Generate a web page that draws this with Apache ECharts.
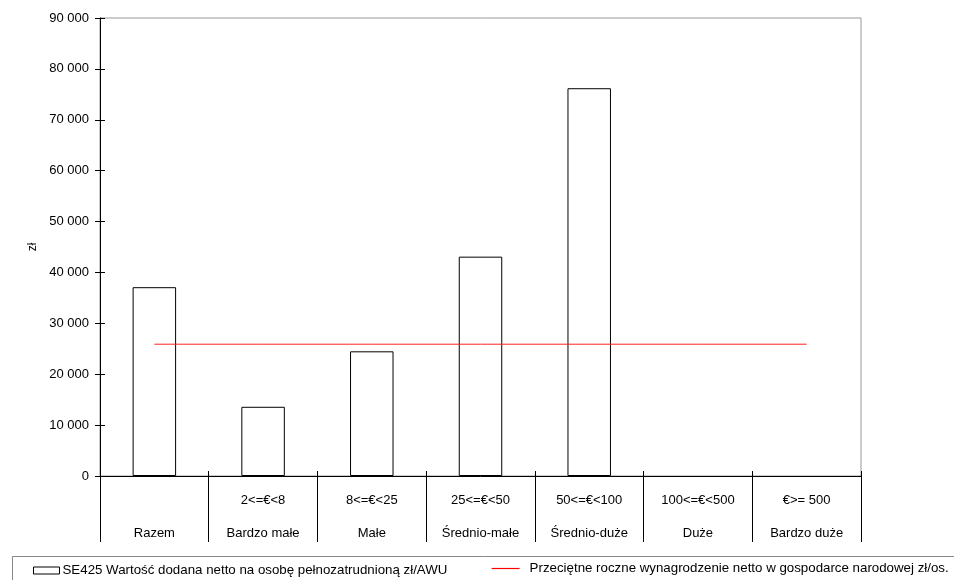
<!DOCTYPE html>
<html>
<head>
<meta charset="utf-8">
<script src="https://cdn.jsdelivr.net/npm/echarts@6/dist/echarts.min.js"></script>
<style>html,body{margin:0;padding:0;background:#fff}#c{width:954px;height:580px}</style>
</head>
<body>
<div id="c"></div>
<script>
var categoriesTop = ['', '2<=€<8', '8<=€<25', '25<=€<50', '50<=€<100', '100<=€<500', '€>= 500'];
var categoriesBottom = ['Razem', 'Bardzo małe', 'Małe', 'Średnio-małe', 'Średnio-duże', 'Duże', 'Bardzo duże'];
var valueAdded = [37100, 13600, 24500, 43100, 76200, null, null];
var avgWage = [25900, 25900, 25900, 25900, 25900, 25900, 25900];
var seriesNames = ['SE425 Wartość dodana netto na osobę pełnozatrudnioną zł/AWU', 'Przeciętne roczne wynagrodzenie netto w gospodarce narodowej zł/os.'];
var yMin = 0, yMax = 90000, yStep = 10000;

var cats = categoriesBottom.map(function (b, i) { return (categoriesTop[i] || ' ') + '\n' + b; });
var font = "'Liberation Sans', Arial, sans-serif";
function fmt(v) { return String(v).replace(/\B(?=(\d{3})+(?!\d))/g, ' '); }

var chart = echarts.init(document.getElementById('c'), null, { renderer: 'canvas' });
chart.setOption({
  animation: false,
  textStyle: { fontFamily: font, color: '#000' },
  grid: { left: 100, right: 93, top: 18, bottom: 104, show: true, borderColor: '#999', borderWidth: 1, containLabel: false },
  xAxis: [
    {
      type: 'category', data: cats, position: 'bottom', boundaryGap: true,
      axisLine: { show: true, lineStyle: { color: '#000', width: 1 } },
      axisTick: { show: true, inside: true, length: 5, interval: 0, lineStyle: { color: '#000' } },
      axisLabel: { interval: 0, margin: 8, lineHeight: 33, fontSize: 13, color: '#000', fontFamily: font },
      splitLine: { show: false }
    },
    {
      type: 'category', data: cats, position: 'bottom', boundaryGap: true,
      axisLine: { show: false },
      axisTick: { show: true, inside: false, length: 66, interval: 0, lineStyle: { color: '#000' } },
      axisLabel: { show: false },
      splitLine: { show: false }
    }
  ],
  yAxis: [
    {
      type: 'value', min: yMin, max: yMax, interval: yStep,
      name: 'zł', nameLocation: 'middle', nameRotate: 90, nameGap: 61,
      nameTextStyle: { fontSize: 12, color: '#000', fontFamily: font },
      axisLine: { show: true, lineStyle: { color: '#000', width: 1 } },
      axisTick: { show: true, inside: false, length: 5, lineStyle: { color: '#000' } },
      axisLabel: { margin: 11, fontSize: 13, color: '#000', fontFamily: font, formatter: fmt },
      splitLine: { show: false }
    },
    {
      type: 'value', min: yMin, max: yMax, interval: yStep, position: 'left',
      axisLine: { show: false },
      axisTick: { show: true, inside: true, length: 5, lineStyle: { color: '#000' } },
      axisLabel: { show: false },
      splitLine: { show: false }
    }
  ],
  legend: [
    {
      data: [seriesNames[0]], left: 33, top: 564, padding: 0, icon: 'rect',
      itemWidth: 26, itemHeight: 7, itemGap: 0,
      itemStyle: { color: '#fff', borderColor: '#000', borderWidth: 1 },
      textStyle: { fontSize: 13.3, color: '#000', fontFamily: font, padding: [0, 0, 0, -2] }
    },
    {
      data: [seriesNames[1]],
      left: 491, top: 562, padding: 0,
      itemWidth: 28, itemHeight: 14, itemGap: 0,
      itemStyle: { opacity: 0 },
      lineStyle: { color: '#ff0000', width: 1.2 },
      textStyle: { fontSize: 13.3, color: '#000', fontFamily: font, padding: [0, 0, 0, 5] }
    }
  ],
  graphic: [
    { type: 'rect', left: 10, top: 554, shape: { width: 980, height: 40 }, style: { fill: 'none', stroke: '#888', lineWidth: 1 }, silent: true }
  ],
  series: [
    {
      name: seriesNames[0], type: 'bar', data: valueAdded, barWidth: '40%',
      itemStyle: { color: '#fff', borderColor: '#000', borderWidth: 1 }, z: 2
    },
    {
      name: seriesNames[1], type: 'line', data: avgWage, symbol: 'none', showSymbol: false,
      lineStyle: { color: '#ff2020', width: 1 }, itemStyle: { color: '#ff2020' }, z: 3
    }
  ]
});
</script>
</body>
</html>
